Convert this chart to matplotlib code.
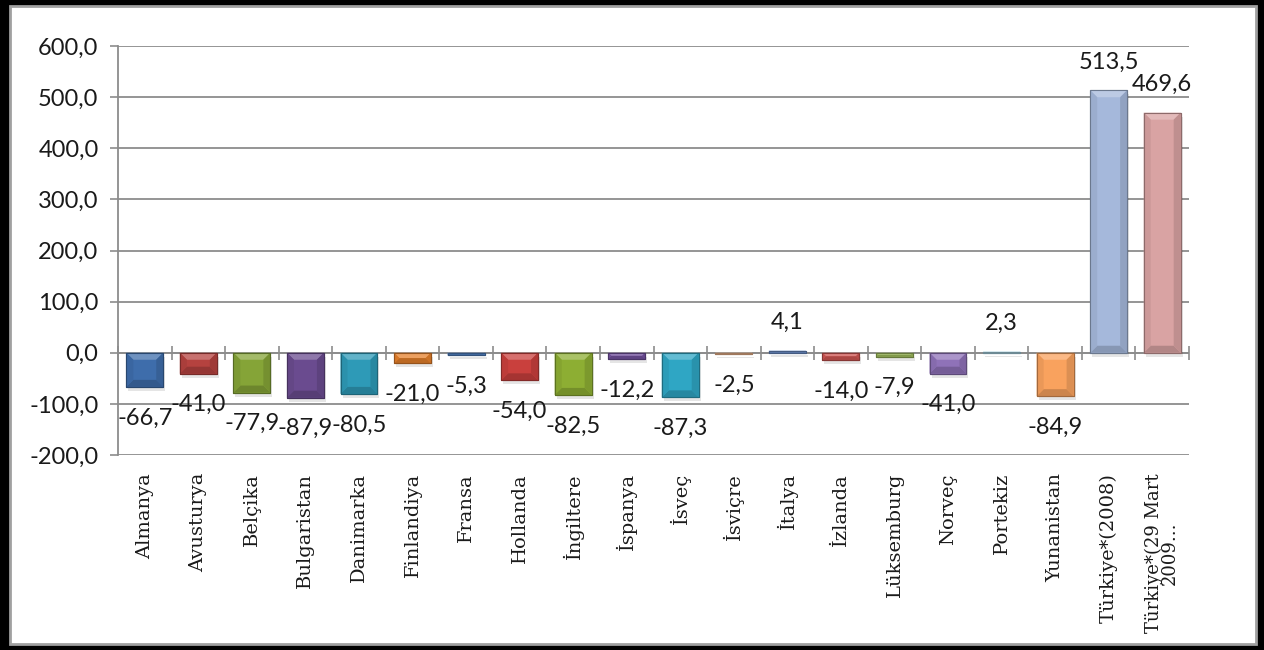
import numpy as np
import matplotlib
matplotlib.use("Agg")
import matplotlib.pyplot as plt
from matplotlib.patches import Rectangle, Polygon
from matplotlib.colors import to_rgb

ulkeler = ["Almanya", "Avusturya", "Belçika", "Bulgaristan", "Danimarka",
           "Finlandiya", "Fransa", "Hollanda", "İngiltere", "İspanya",
           "İsveç", "İsviçre", "İtalya", "İzlanda", "Lüksemburg", "Norveç",
           "Portekiz", "Yunanistan", "Türkiye*(2008)", "Türkiye*(29 Mart\n2009..."]
degerler = [-66.7, -41.0, -77.9, -87.9, -80.5, -21.0, -5.3, -54.0, -82.5, -12.2,
            -87.3, -2.5, 4.1, -14.0, -7.9, -41.0, 2.3, -84.9, 513.5, 469.6]
renkler = ["#3E6DAB", "#B5423F", "#85A437", "#6A4B8F", "#2E9AB7", "#E5802B",
           "#4F7FC0", "#C9403D", "#8DAE33", "#7452A0", "#2FA6C4", "#F5B98E",
           "#6A8CC6", "#D05552", "#9DBA5C", "#8F72B8", "#A7D5E4", "#F9A25E",
           "#A5B8DB", "#D9A3A3"]
y_ticks = [-200, -100, 0, 100, 200, 300, 400, 500, 600]

GRI = "#8C8C8C"


def karistir(renk, hedef, oran):
    r = np.array(to_rgb(renk))
    h = np.array(to_rgb(hedef))
    return tuple(r + (h - r) * oran)


fig = plt.figure(figsize=(12.64, 6.5), dpi=100)
fig.patch.set_facecolor("black")
fig.patches.append(Rectangle((10 / 1264, 6 / 650), 1246 / 1264, 638 / 650,
                             transform=fig.transFigure, facecolor="white",
                             edgecolor="#A0A0A0", linewidth=2, zorder=-5))

ax = fig.add_axes([118 / 1264, 195 / 650, 1071 / 1264, 409 / 650])
ax.set_zorder(2)
ax.set_facecolor("none")
ax.set_xlim(-0.5, len(degerler) - 0.5)
ax.set_ylim(-200, 600)

# pixel -> veri birimi donusumu (bevel ve golge icin)
ppu_y = 409 / 800.0
ppu_x = 1071 / len(degerler)

genislik = 0.69
x = np.arange(len(degerler))
for i, (v, renk) in enumerate(zip(degerler, renkler)):
    ust = max(v, 0)
    alt = min(v, 0)
    x0 = i - genislik / 2
    x1 = i + genislik / 2
    # golge
    ax.add_patch(Rectangle((x0 + 2 / ppu_x, alt - 4 / ppu_y), genislik, ust - alt,
                           facecolor="#000000", alpha=0.10, edgecolor="none", zorder=2))
    ax.bar(i, v, width=genislik, color=renk, edgecolor=karistir(renk, "black", 0.35),
           linewidth=0.8, zorder=3)
    h_px = (ust - alt) * ppu_y
    b = min(7, h_px / 2)
    bx = min(7, b) / ppu_x
    by = b / ppu_y
    # bevel parcalari
    ax.add_patch(Polygon([(x0, ust), (x1, ust), (x1 - bx, ust - by), (x0 + bx, ust - by)],
                         facecolor=karistir(renk, "white", 0.25), edgecolor="none", zorder=4))
    ax.add_patch(Polygon([(x0, alt), (x1, alt), (x1 - bx, alt + by), (x0 + bx, alt + by)],
                         facecolor=karistir(renk, "black", 0.18), edgecolor="none", zorder=4))
    ax.add_patch(Polygon([(x0, ust), (x0 + bx, ust - by), (x0 + bx, alt + by), (x0, alt)],
                         facecolor=karistir(renk, "black", 0.06), edgecolor="none", zorder=4))
    ax.add_patch(Polygon([(x1, ust), (x1 - bx, ust - by), (x1 - bx, alt + by), (x1, alt)],
                         facecolor=karistir(renk, "black", 0.12), edgecolor="none", zorder=4))
    ax.add_patch(Rectangle((x0, alt), genislik, ust - alt, facecolor="none",
                           edgecolor=karistir(renk, "black", 0.35), linewidth=0.8, zorder=5))

    etiket = f"{v:.1f}".replace(".", ",")
    kayma = 28 if v > 0 else -31
    ax.annotate(etiket, (i, v), xytext=(0, kayma * 0.72), textcoords="offset points",
                ha="center", va="center", fontsize=17, family="Lato", color="#1a1a1a",
                zorder=6)

# sifir cizgisi ve kategori sinir cizgileri
ax.axhline(0, color=GRI, linewidth=1.3, zorder=1)
sinirlar = np.arange(len(degerler) + 1) - 0.5
ax.plot(sinirlar, np.zeros_like(sinirlar), linestyle="none", marker="|",
        markersize=10, markeredgewidth=1.2, color=GRI, zorder=1, clip_on=False)

ax.set_yticks(y_ticks)
ax.set_yticklabels([f"{t:.1f}".replace(".", ",") for t in y_ticks],
                   fontsize=17, family="Lato", color="#1a1a1a")
ax.yaxis.grid(True, color=GRI, linewidth=1.3, zorder=0)
ax.set_axisbelow(True)
ax.tick_params(axis="y", length=6, width=1.2, color=GRI, pad=8)

ax.set_xticks(x)
ax.set_xticklabels(ulkeler, rotation=90, fontsize=14, family="DejaVu Serif",
                   color="#1a1a1a", linespacing=0.85)
for lbl in ax.get_xticklabels():
    lbl.set_multialignment("center")
ax.get_xticklabels()[-1].set_fontsize(13)
ax.tick_params(axis="x", length=0, pad=13)

for s in ["top", "right", "bottom"]:
    ax.spines[s].set_visible(False)
ax.spines["left"].set_color(GRI)
ax.spines["left"].set_linewidth(1.3)

fig.savefig("out.png", dpi=100, facecolor=fig.get_facecolor())
